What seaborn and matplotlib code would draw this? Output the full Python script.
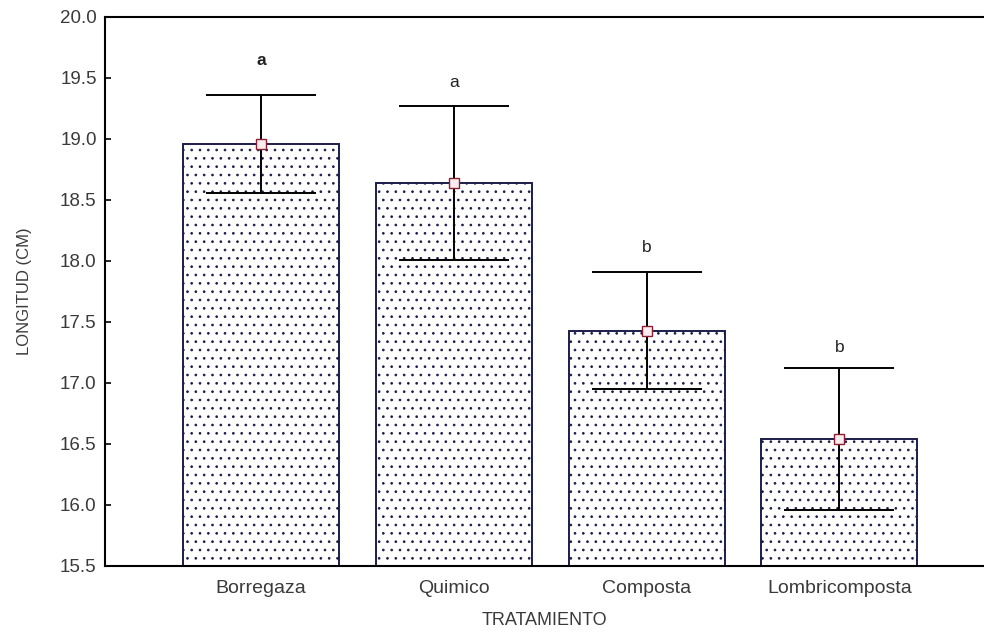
import numpy as np
import pandas as pd
import matplotlib
matplotlib.use("Agg")
import matplotlib.pyplot as plt
import seaborn as sns

# Treatment means, half-widths of the error bars and significance letters
tratamientos = ["Borregaza", "Quimico", "Composta", "Lombricomposta"]
medias = [18.96, 18.64, 17.43, 16.54]
errores = [0.40, 0.63, 0.48, 0.58]
letras = ["a", "a", "b", "b"]
letra_y = [19.64, 19.46, 18.11, 17.29]
y_ticks = [15.5, 16.0, 16.5, 17.0, 17.5, 18.0, 18.5, 19.0, 19.5, 20.0]

sns.set_style("ticks")
plt.rcParams["font.family"] = ["Liberation Sans", "DejaVu Sans"]
plt.rcParams["hatch.linewidth"] = 0.7

df = pd.DataFrame({"Tratamiento": tratamientos, "Longitud": medias})

fig = plt.figure(figsize=(9.84, 6.33), dpi=100)
ax = fig.add_axes([105 / 984, 1 - 566 / 633, 1 - 105 / 984, (566 - 17) / 633])

sns.barplot(
    data=df, x="Tratamiento", y="Longitud", order=tratamientos,
    color="white", saturation=1, edgecolor="#1c1c4a", linewidth=1.4,
    width=0.81, hatch="..", errorbar=None, ax=ax, zorder=2,
)

x = np.arange(len(tratamientos))
m = np.array(medias)
e = np.array(errores)
lo, hi = m - e, m + e
cap = 0.285
ax.vlines(x, lo, hi, color="black", linewidth=1.4, zorder=3)
ax.hlines(hi, x - cap, x + cap, color="black", linewidth=1.4, zorder=3)
ax.hlines(lo, x - cap, x + cap, color="black", linewidth=1.4, zorder=3)
ax.plot(x, m, linestyle="none", marker="s", markersize=6.5,
        markerfacecolor="#fbecef", markeredgecolor="#8c1f33",
        markeredgewidth=1.0, zorder=4)

for i, (xi, yi, t) in enumerate(zip(x, letra_y, letras)):
    ax.text(xi, yi, t, ha="center", va="center", fontsize=12.5,
            color="#222222", fontweight="bold" if i == 0 else "normal")

ax.set_ylim(15.5, 20.0)
ax.set_xlim(-0.81, 3.75)
ax.set_yticks(y_ticks)
ax.set_yticklabels([f"{v:.1f}" for v in y_ticks])
ax.tick_params(axis="both", direction="in", length=4, width=1.2,
               labelcolor="#3a3a3a", color="black")
ax.tick_params(axis="y", pad=6, labelsize=13.5)
ax.tick_params(axis="x", pad=10, labelsize=14)

for side in ["left", "bottom", "top"]:
    ax.spines[side].set_visible(True)
    ax.spines[side].set_linewidth(1.5)
    ax.spines[side].set_color("black")
ax.spines["right"].set_visible(False)

ax.set_xlabel("TRATAMIENTO", fontsize=13, color="#3a3a3a", labelpad=11)
ax.set_ylabel("LONGITUD (CM)", fontsize=12, color="#3a3a3a", labelpad=20)

fig.savefig("out.png", dpi=100)
